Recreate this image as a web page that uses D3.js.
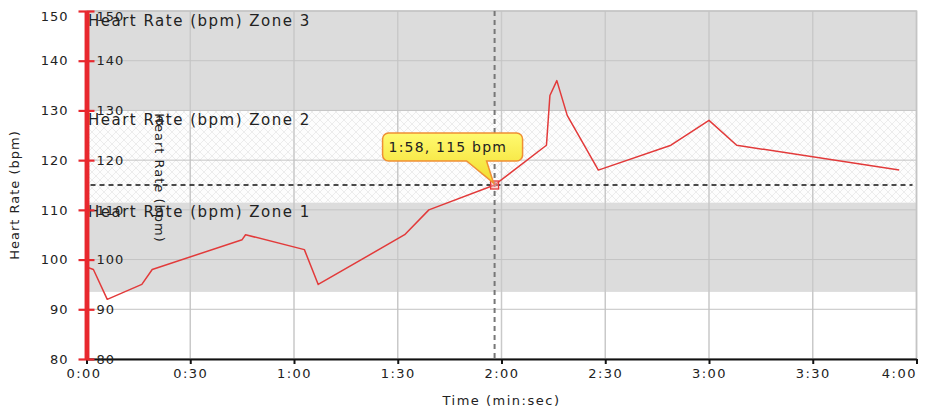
<!DOCTYPE html>
<html>
<head>
<meta charset="utf-8">
<script src="https://cdn.jsdelivr.net/npm/d3@7"></script>
<style>
  html, body { margin: 0; padding: 0; background: #fff; }
  svg { display: block; }
  text { font-family: "DejaVu Sans", Verdana, sans-serif; fill: #222; }
</style>
</head>
<body>
<svg id="chart" width="925" height="411"></svg>
<script>
// ---- data ----
const timeSec = [0, 2, 6, 16, 19, 45, 46, 63, 67, 92, 99, 118, 133, 134, 136, 139, 148, 169, 180, 188, 235];
const heartRate = [98.5, 98, 92, 95, 98, 104, 105, 102, 95, 105, 110, 115, 123, 133, 136, 129, 118, 123, 128, 123, 118];
const zoneNames = ["Heart Rate (bpm) Zone 1", "Heart Rate (bpm) Zone 2", "Heart Rate (bpm) Zone 3"];
const zoneLow = [93.5, 111.5, 130];
const zoneHigh = [111.5, 130, 150];
const yTicks = [80, 90, 100, 110, 120, 130, 140, 150];
const xTicks = [0, 30, 60, 90, 120, 150, 180, 210, 240];
const cursorTime = 118;
const cursorBpm = 115;
const cursorLabel = "1:58, 115 bpm";
const yTitle = "Heart Rate (bpm)";
const xTitle = "Time (min:sec)";

// ---- layout ----
const svg = d3.select("#chart");
const pLeft = 86.5, pRight = 916.5, pTop = 11, pBottom = 359;
const x = d3.scaleLinear().domain([0, 240]).range([pLeft, pRight]);
const y = d3.scaleLinear().domain([80, 150]).range([pBottom, pTop]);
const fmt = s => `${Math.floor(s / 60)}:${String(s % 60).padStart(2, "0")}`;

const defs = svg.append("defs");
const pat = defs.append("pattern").attr("id", "hatch").attr("patternUnits", "userSpaceOnUse")
  .attr("width", 8).attr("height", 8);
pat.append("rect").attr("width", 8).attr("height", 8).attr("fill", "#fdfdfd");
pat.append("path").attr("d", "M0,0L8,8M8,0L0,8").attr("stroke", "#ececec").attr("stroke-width", 1);
const grad = defs.append("linearGradient").attr("id", "tipgrad").attr("x1", 0).attr("y1", 0).attr("x2", 0).attr("y2", 1);
grad.append("stop").attr("offset", "0%").attr("stop-color", "#fffa70");
grad.append("stop").attr("offset", "100%").attr("stop-color", "#f2dc2c");

// plot background
svg.append("rect").attr("x", pLeft).attr("y", pTop).attr("width", pRight - pLeft).attr("height", pBottom - pTop)
  .attr("fill", "#fff");

// zones
zoneNames.forEach((name, i) => {
  svg.append("rect")
    .attr("x", pLeft).attr("width", pRight - pLeft)
    .attr("y", y(zoneHigh[i])).attr("height", y(zoneLow[i]) - y(zoneHigh[i]))
    .attr("fill", i === 1 ? "url(#hatch)" : "#dcdcdc");
});

// grid
svg.append("g").selectAll("line").data(xTicks).join("line")
  .attr("x1", d => x(d)).attr("x2", d => x(d)).attr("y1", pTop).attr("y2", pBottom)
  .attr("stroke", "#c9c9c9").attr("stroke-width", 1.5);
svg.append("g").selectAll("line").data(yTicks).join("line")
  .attr("x1", pLeft).attr("x2", pRight).attr("y1", d => y(d)).attr("y2", d => y(d))
  .attr("stroke", "#c4c4c4").attr("stroke-width", 1);

// border
svg.append("rect").attr("x", pLeft).attr("y", pTop).attr("width", pRight - pLeft).attr("height", pBottom - pTop)
  .attr("fill", "none").attr("stroke", "#c4c4c4").attr("stroke-width", 1.5);

// zone labels
zoneNames.forEach((name, i) => {
  svg.append("text").attr("x", 88).attr("y", y(zoneHigh[i]) + 15)
    .attr("font-size", 15).attr("letter-spacing", 1.5).attr("fill", "#222").text(name);
});

// cursor lines
svg.append("line").attr("x1", pLeft + 4).attr("x2", pRight - 4)
  .attr("y1", y(cursorBpm)).attr("y2", y(cursorBpm))
  .attr("stroke", "#111").attr("stroke-width", 1.3).attr("stroke-dasharray", "5,4");
svg.append("line").attr("x1", x(cursorTime)).attr("x2", x(cursorTime))
  .attr("y1", pTop).attr("y2", pBottom)
  .attr("stroke", "#777").attr("stroke-width", 2).attr("stroke-dasharray", "5,4");

// data line
const line = d3.line().x((d, i) => x(timeSec[i])).y(d => y(d));
svg.append("path").datum(heartRate).attr("d", line)
  .attr("fill", "none").attr("stroke", "#e23a3a").attr("stroke-width", 1.5).attr("stroke-linejoin", "round");

// x axis
const xAxis = svg.append("g").attr("transform", `translate(0,${pBottom})`)
  .call(d3.axisBottom(x).tickValues(xTicks).tickFormat(fmt).tickSizeInner(5).tickSizeOuter(0).tickPadding(5));
xAxis.select(".domain").attr("stroke", "#111").attr("stroke-width", 2);
xAxis.selectAll(".tick line").attr("stroke", "#111").attr("stroke-width", 2);
xAxis.selectAll(".tick text").attr("font-size", 13).attr("letter-spacing", 1.5)
  .attr("font-family", "DejaVu Sans, sans-serif").attr("fill", "#222")
  .attr("text-anchor", d => d === 240 ? "end" : "middle")
  .attr("dx", d => d === 0 ? -3 : 0);

// y axis (red), outer and inner labels
const yAxisL = svg.append("g").attr("transform", `translate(${pLeft},0)`)
  .call(d3.axisLeft(y).tickValues(yTicks).tickSizeInner(8).tickSizeOuter(0).tickPadding(10));
const yAxisR = svg.append("g").attr("transform", `translate(${pLeft},0)`)
  .call(d3.axisRight(y).tickValues(yTicks).tickSizeInner(8).tickSizeOuter(0).tickPadding(2));
[yAxisL, yAxisR].forEach(g => {
  g.select(".domain").attr("stroke", "#e8282e").attr("stroke-width", 4.5);
  g.selectAll(".tick line").attr("stroke", "#e8282e").attr("stroke-width", 2.2);
  g.selectAll(".tick text").attr("font-size", 13).attr("letter-spacing", 1)
    .attr("font-family", "DejaVu Sans, sans-serif").attr("fill", "#222")
    .attr("dy", d => d === 150 ? "0.72em" : "0.32em");
});

// axis titles
svg.append("text").attr("transform", `translate(19,${(pTop + pBottom) / 2 + 10}) rotate(-90)`)
  .attr("text-anchor", "middle").attr("font-size", 13).attr("letter-spacing", 1).text(yTitle);
svg.append("text").attr("transform", `translate(155,178) rotate(90)`)
  .attr("text-anchor", "middle").attr("font-size", 13).attr("letter-spacing", 1).text(yTitle);
svg.append("text").attr("x", (pLeft + pRight) / 2).attr("y", 405)
  .attr("text-anchor", "middle").attr("font-size", 13).attr("letter-spacing", 1.5).text(xTitle);

// marker
const mx = x(cursorTime), my = y(cursorBpm);
svg.append("rect").attr("x", mx - 4).attr("y", my - 4).attr("width", 8).attr("height", 8)
  .attr("fill", "rgba(255,170,170,0.5)").attr("stroke", "#e23a3a").attr("stroke-width", 1.3);

// tooltip
const bx = mx - 112, by = my - 52, bw = 140, bh = 28, r = 6;
const p = d3.path();
p.moveTo(bx + r, by);
p.lineTo(bx + bw - r, by);
p.arcTo(bx + bw, by, bx + bw, by + r, r);
p.lineTo(bx + bw, by + bh - r);
p.arcTo(bx + bw, by + bh, bx + bw - r, by + bh, r);
p.lineTo(mx - 8, by + bh);
p.lineTo(mx - 1, my - 2);
p.lineTo(mx - 28, by + bh);
p.lineTo(bx + r, by + bh);
p.arcTo(bx, by + bh, bx, by + bh - r, r);
p.lineTo(bx, by + r);
p.arcTo(bx, by, bx + r, by, r);
p.closePath();
svg.append("path").attr("d", p.toString()).attr("fill", "url(#tipgrad)")
  .attr("stroke", "#ef8f34").attr("stroke-width", 1.5);
svg.append("text").attr("x", bx + 6).attr("y", by + 19).attr("font-size", 14).attr("letter-spacing", 1.2)
  .attr("fill", "#111").text(cursorLabel);
</script>
</body>
</html>
